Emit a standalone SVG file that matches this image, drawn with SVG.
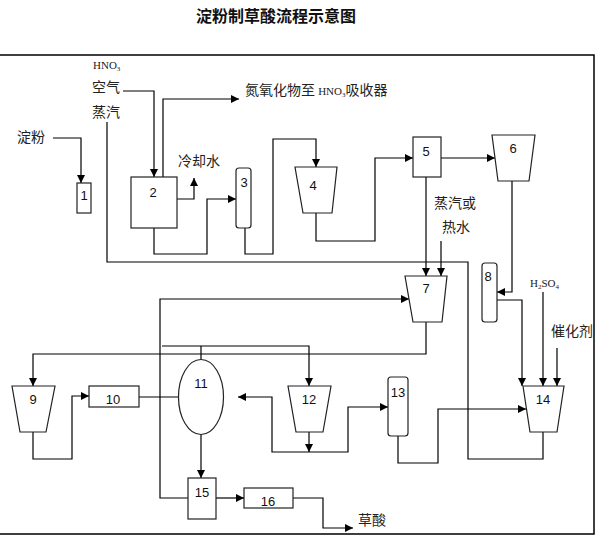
<svg xmlns="http://www.w3.org/2000/svg" width="596" height="536" viewBox="0 0 596 536">
<style>
.c{fill:none;stroke:#000;stroke-width:1.2}
.a{marker-end:url(#ah)}
.n{fill:#fff;stroke:#222;stroke-width:1.2}
.num{font-family:"Liberation Sans",Arial,sans-serif;font-size:13px;fill:#111;text-anchor:middle}
.cn{font-family:"Noto Sans CJK SC","Noto Sans",sans-serif;font-size:14px;fill:#222}
.sm{font-family:"Liberation Serif",serif;font-size:11px;fill:#222}
</style>
<defs>
<marker id="ah" viewBox="0 0 10 10" refX="10" refY="5" markerWidth="8" markerHeight="8" markerUnits="userSpaceOnUse" orient="auto">
<path d="M0,0 L10,5 L0,10 Z" fill="#000"/>
</marker>
</defs>
<rect width="596" height="536" fill="#fff"/>
<text x="276" y="22" text-anchor="middle" style="font-family:'Noto Sans CJK SC',sans-serif;font-size:16px;font-weight:bold" fill="#111">淀粉制草酸流程示意图</text>
<path d="M0,55 H594 V534 H0" fill="none" stroke="#000" stroke-width="1.5"/>

<g id="connectors">
<path class="c a" d="M53,138 H81 V183"/>
<path class="c a" d="M123,91 H154 V177"/>
<path class="c a" d="M163,177 V99 H239"/>
<path class="c a" d="M177,199 H194 V178"/>
<path class="c a" d="M154,228 V254 H207 V199 H236"/>
<path class="c a" d="M245,228 V254 H273 V139 H316 V167"/>
<path class="c a" d="M316,213 V241 H375 V158 H413"/>
<path class="c a" d="M441,158 H495"/>
<path class="c a" d="M426,177 V276"/>
<path class="c a" d="M441,241 V276"/>
<path class="c a" d="M512,181 V292 H497"/>
<path class="c" d="M107,122 V262 H468 V459 H543 V432"/>
<path class="c a" d="M188,498 H160 V299 H409"/>
<path class="c a" d="M426,322 V354 H33 V386"/>
<path class="c" d="M201,359 V346"/>
<path class="c a" d="M162,346 H309 V386"/>
<path class="c a" d="M33,432 V459 H72 V396 H89"/>
<path class="c" d="M139,397 H178"/>
<path class="c a" d="M201,434 V478"/>
<path class="c a" d="M309,432 V452"/>
<path class="c a" d="M309,452 H272 V397 H238"/>
<path class="c a" d="M309,452 H348 V407 H388"/>
<path class="c a" d="M398,436 V463 H438 V409 H526"/>
<path class="c a" d="M497,300 H522 V386"/>
<path class="c a" d="M543,292 V386"/>
<path class="c a" d="M557,348 V386"/>
<path class="c a" d="M216,498 H244"/>
<path class="c a" d="M293,498 H323 V528 H353"/>
</g>

<g id="n1"><rect class="n" x="77" y="183" width="14" height="30"/><text class="num" x="84" y="200">1</text></g>
<g id="n2"><rect class="n" x="131" y="177" width="46" height="51"/><text class="num" x="153" y="197">2</text></g>
<g id="n3"><rect class="n" x="236" y="168" width="15" height="60" rx="3"/><text class="num" x="244" y="187">3</text></g>
<g id="n4"><polygon class="n" points="295,167 337,167 332,213 303,213"/><text class="num" x="313" y="190">4</text></g>
<g id="n5"><rect class="n" x="413" y="137" width="28" height="40"/><text class="num" x="426" y="156">5</text></g>
<g id="n6"><polygon class="n" points="492,135 535,135 529,181 498,181"/><text class="num" x="513" y="153">6</text></g>
<g id="n7"><polygon class="n" points="405,276 447,276 442,322 413,322"/><text class="num" x="426" y="293">7</text></g>
<g id="n8"><rect class="n" x="482" y="263" width="15" height="59" rx="3"/><text class="num" x="488" y="281">8</text></g>
<g id="n9"><polygon class="n" points="12,386 55,386 46,432 20,432"/><text class="num" x="33" y="404">9</text></g>
<g id="n10"><rect class="n" x="89" y="386" width="50" height="21"/><text class="num" x="113" y="404">10</text></g>
<g id="n11"><ellipse class="n" cx="201" cy="397" rx="22.5" ry="37.5"/><text class="num" x="201" y="388">11</text></g>
<g id="n12"><polygon class="n" points="288,386 331,386 323,432 296,432"/><text class="num" x="309" y="404">12</text></g>
<g id="n13"><rect class="n" x="388" y="377" width="20" height="59" rx="3"/><text class="num" x="398" y="397">13</text></g>
<g id="n14"><polygon class="n" points="523,386 564,386 557,432 530,432"/><text class="num" x="543" y="404">14</text></g>
<g id="n15"><rect class="n" x="188" y="478" width="28" height="41"/><text class="num" x="202" y="497">15</text></g>
<g id="n16"><rect class="n" x="244" y="488" width="49" height="20"/><text class="num" x="268" y="506">16</text></g>

<g id="labels">
<text class="sm" x="93" y="69">HNO<tspan font-size="7" dy="2">3</tspan></text>
<text class="cn" x="92" y="92">空气</text>
<text class="cn" x="92" y="117">蒸汽</text>
<text class="cn" x="17" y="142">淀粉</text>
<text class="cn" x="178" y="166">冷却水</text>
<text class="cn" x="245" y="95">氮氧化物至 <tspan class="sm">HNO<tspan font-size="7" dy="2">3</tspan></tspan><tspan dy="-2">吸收器</tspan></text>
<text class="cn" x="434" y="208">蒸汽或</text>
<text class="cn" x="442" y="232">热水</text>
<text class="sm" x="530" y="287">H<tspan font-size="7" dy="2">2</tspan><tspan dy="-2">SO</tspan><tspan font-size="7" dy="2">4</tspan></text>
<text class="cn" x="551" y="336">催化剂</text>
<text class="cn" x="358" y="525">草酸</text>
</g>
</svg>
